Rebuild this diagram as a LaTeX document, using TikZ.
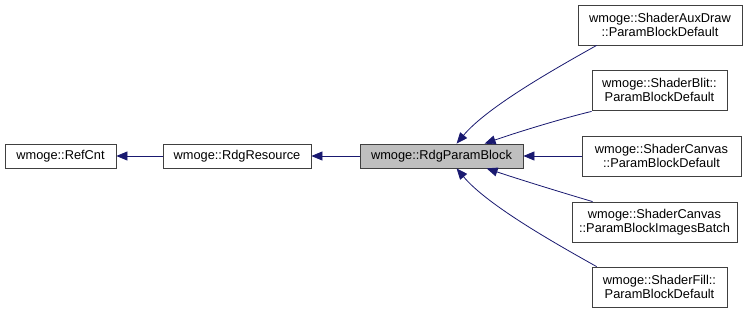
\documentclass[tikz,border=0pt]{standalone}
\usepackage{fontspec}
\setmainfont{Liberation Sans}
\usetikzlibrary{arrows.meta}
\definecolor{edgeblue}{RGB}{25,25,112}
\definecolor{boxline}{RGB}{64,64,64}
\tikzset{
	cls/.style={draw=boxline, thick, fill=white, inner sep=0pt, align=center,
		minimum height=24pt, font=\fontsize{12.8}{14.5}\selectfont},
	cls2/.style={cls, minimum height=40pt},
	inh/.style={edgeblue, thick, -{Triangle[length=11pt,width=9pt]}}
}
\begin{document}
\begin{tikzpicture}[x=1pt,y=-1pt]
		\useasboundingbox (0,0) rectangle (753,313);
		\node [cls, minimum width=111pt] (refcnt) at (60.5,156) {wmoge::RefCnt};
		\node [cls, minimum width=148pt] (resource) at (237,156) {wmoge::RdgResource};
		\node [cls, minimum width=163pt, fill=gray!50] (block) at (441.5,156) {wmoge::RdgParamBlock};
		\node [cls2, minimum width=164pt] (auxdraw) at (660,25) {wmoge::ShaderAuxDraw\\::ParamBlockDefault};
		\node [cls2, minimum width=135pt] (blit) at (659.5,90) {wmoge::ShaderBlit::\\ParamBlockDefault};
		\node [cls2, minimum width=159pt] (canvas) at (661.5,156) {wmoge::ShaderCanvas\\::ParamBlockDefault};
		\node [cls2, minimum width=165pt] (batch) at (654.5,222) {wmoge::ShaderCanvas\\::ParamBlockImagesBatch};
		\node [cls2, minimum width=135pt] (fill) at (659.5,287) {wmoge::ShaderFill::\\ParamBlockDefault};
		% base classes
		\draw [inh] (resource) -- (refcnt);
		\draw [inh] (block) -- (resource);
		% derived param blocks
		\draw [inh] ([xshift=19pt]auxdraw.south west) .. controls (560,66) and (488,106) .. ([xshift=97pt]block.north west);
		\draw [inh] ([yshift=-1pt]blit.south west) .. controls (560,119) and (515,133) .. ([xshift=125pt]block.north west);
		\draw [inh] (canvas) -- (block);
		\draw [inh] ([xshift=21pt]batch.north west) .. controls (560,192) and (515,178) .. ([xshift=127pt]block.south west);
		\draw [inh] ([xshift=5pt]fill.north west) .. controls (560,246) and (488,206) .. ([xshift=97pt]block.south west);
\end{tikzpicture}
\end{document}
